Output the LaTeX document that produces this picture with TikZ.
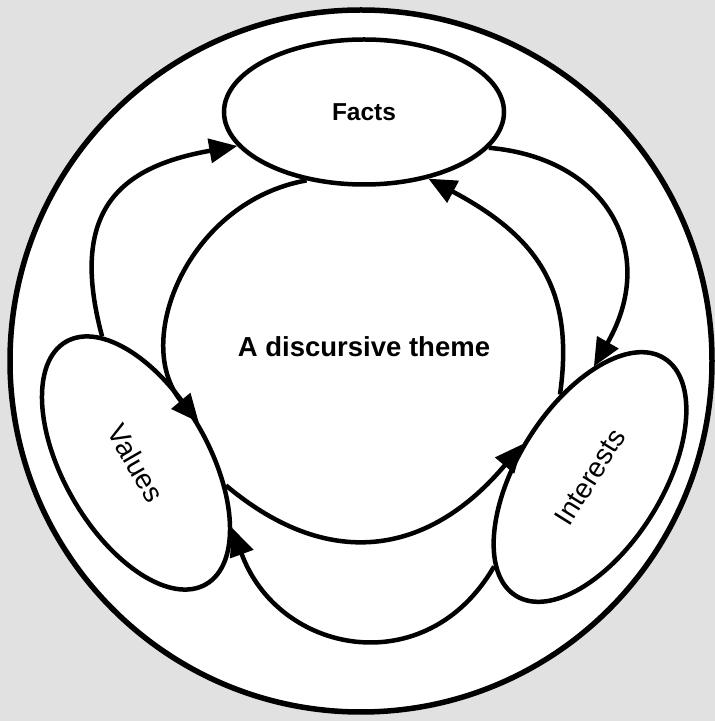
\documentclass[tikz,border=0pt]{standalone}
\usepackage{fontspec}
\setmainfont{Liberation Sans}
\usetikzlibrary{arrows.meta,shapes.geometric}
\definecolor{paper}{HTML}{E1E1E1}

\begin{document}
\begin{tikzpicture}[
  x=1pt, y=1pt,
  frame/.style={circle, draw, fill=white, line width=5.5pt, minimum size=702pt, inner sep=0pt},
  topic/.style={ellipse, draw, fill=white, line width=4.5pt, minimum width=280pt, minimum height=145pt, inner sep=0pt},
  flow/.style={draw, line width=4.5pt, -{Triangle[length=28pt, width=24pt]}},
  bold/.style={font=\fontsize{24.5}{28}\selectfont\bfseries},
  plain/.style={font=\fontsize{28}{32}\selectfont}
]
  \fill[paper] (0,0) rectangle (715,721);
  \useasboundingbox (0,0) rectangle (715,721);
  \node[frame] (world) at (361,360) {};
  \node[font=\fontsize{27.5}{32}\selectfont\bfseries] (theme) at (364,374) {A discursive theme};
  \node[topic, bold] (facts) at (364,609) {Facts};
  \node[topic, plain, rotate=-60] (values) at (136,258) {Values};
  \node[topic, plain, rotate=58] (interests) at (590,244) {Interests};

  \draw[flow] (facts.230) .. controls +(190:120) and +(130:105) .. (values.93);
  \draw[flow] (values.46) .. controls +(-40:140) and +(230:140) .. (interests.96);
  \draw[flow] (interests.52) .. controls +(82:105) and +(-28:125) .. (facts.314);
  \draw[flow] (values.165) .. controls +(105:130) and +(190:120) .. (facts.195);
  \draw[flow] (facts.344) .. controls +(-5:120) and +(60:130) .. (interests.30);
  \draw[flow] (interests.165) .. controls +(-120:135) and +(-70:135) .. (values.26);
\end{tikzpicture}
\end{document}
